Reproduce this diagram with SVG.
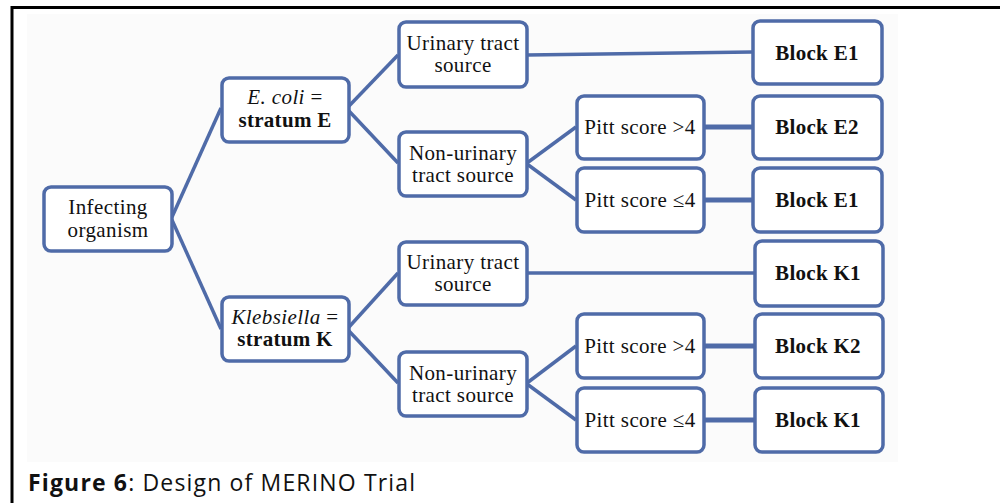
<svg xmlns="http://www.w3.org/2000/svg" width="1000" height="503" viewBox="0 0 1000 503">
<style>
.box{fill:#ffffff;stroke:#4f6ba8;stroke-width:3.5}
.conn{stroke:#4f6ba8;stroke-width:3.5;fill:none;stroke-linecap:butt}
.thick{stroke-width:5}
.t{font-family:"Liberation Serif","Times New Roman",serif;font-size:21px;letter-spacing:0.4px;fill:#111;text-anchor:middle}
.b{font-weight:bold;letter-spacing:0.3px}
.i{font-style:italic}
.cap{font-family:"Open Sans","Liberation Sans",Arial,sans-serif;font-size:23px;fill:#111}
</style>
<rect x="0" y="0" width="1000" height="503" fill="#ffffff"/>
<rect x="27" y="14" width="871" height="448" fill="#fbfbfb"/>
<g id="frame" fill="none" stroke="#000" stroke-width="3">
<path d="M12,503 V7.5 H1000"/>
</g>
<g id="connectors">
<line class="conn" x1="172" y1="217" x2="221" y2="108"/>
<line class="conn" x1="172" y1="220" x2="221" y2="329"/>
<line class="conn" x1="349" y1="106" x2="398" y2="55"/>
<line class="conn" x1="349" y1="111" x2="398" y2="163"/>
<line class="conn" x1="527" y1="55" x2="752" y2="52"/>
<line class="conn" x1="527" y1="163" x2="576" y2="127"/>
<line class="conn" x1="527" y1="164" x2="576" y2="200"/>
<line class="conn thick" x1="704" y1="127" x2="752" y2="127"/>
<line class="conn thick" x1="704" y1="200" x2="752" y2="200"/>
<line class="conn" x1="349" y1="327" x2="398" y2="273"/>
<line class="conn" x1="349" y1="331" x2="398" y2="383"/>
<line class="conn" x1="527" y1="273" x2="754" y2="273"/>
<line class="conn" x1="527" y1="383" x2="576" y2="346"/>
<line class="conn" x1="527" y1="384" x2="576" y2="420"/>
<line class="conn thick" x1="704" y1="346" x2="754" y2="346"/>
<line class="conn thick" x1="704" y1="420" x2="754" y2="420"/>
</g>
<g id="infecting">
<rect class="box" x="44" y="187" width="128" height="64" rx="7"/>
<text class="t" x="108" y="214">Infecting</text>
<text class="t" x="108" y="237">organism</text>
</g>
<g id="ecoli">
<rect class="box" x="222" y="78" width="127" height="64" rx="7"/>
<text class="t" x="285" y="104"><tspan class="i">E. coli</tspan> =</text>
<text class="t b" x="285" y="127">stratum E</text>
</g>
<g id="klebsiella">
<rect class="box" x="222" y="297" width="127" height="64" rx="7"/>
<text class="t" x="285" y="324"><tspan class="i">Klebsiella</tspan> =</text>
<text class="t b" x="285" y="346">stratum K</text>
</g>
<g id="urinaryE">
<rect class="box" x="399" y="22" width="128" height="65" rx="7"/>
<text class="t" x="463" y="50">Urinary tract</text>
<text class="t" x="463" y="72">source</text>
</g>
<g id="nonurinaryE">
<rect class="box" x="399" y="132" width="128" height="64" rx="7"/>
<text class="t" x="463" y="160">Non-urinary</text>
<text class="t" x="463" y="182">tract source</text>
</g>
<g id="urinaryK">
<rect class="box" x="399" y="242" width="128" height="63" rx="7"/>
<text class="t" x="463" y="269">Urinary tract</text>
<text class="t" x="463" y="291">source</text>
</g>
<g id="nonurinaryK">
<rect class="box" x="399" y="352" width="128" height="64" rx="7"/>
<text class="t" x="463" y="380">Non-urinary</text>
<text class="t" x="463" y="402">tract source</text>
</g>
<g id="pittE_hi">
<rect class="box" x="577" y="96" width="127" height="63" rx="7"/>
<text class="t" x="640" y="134">Pitt score &gt;4</text>
</g>
<g id="pittE_lo">
<rect class="box" x="577" y="168" width="127" height="64" rx="7"/>
<text class="t" x="640" y="207">Pitt score ≤4</text>
</g>
<g id="pittK_hi">
<rect class="box" x="577" y="314" width="127" height="64" rx="7"/>
<text class="t" x="640" y="353">Pitt score &gt;4</text>
</g>
<g id="pittK_lo">
<rect class="box" x="577" y="388" width="127" height="64" rx="7"/>
<text class="t" x="640" y="427">Pitt score ≤4</text>
</g>
<g id="blockE1a">
<rect class="box" x="753" y="21" width="129" height="63" rx="7"/>
<text class="t b" x="817" y="60">Block E1</text>
</g>
<g id="blockE2">
<rect class="box" x="753" y="96" width="129" height="63" rx="7"/>
<text class="t b" x="817" y="134">Block E2</text>
</g>
<g id="blockE1b">
<rect class="box" x="753" y="168" width="129" height="64" rx="7"/>
<text class="t b" x="817" y="207">Block E1</text>
</g>
<g id="blockK1a">
<rect class="box" x="755" y="241" width="128" height="65" rx="7"/>
<text class="t b" x="818" y="280">Block K1</text>
</g>
<g id="blockK2">
<rect class="box" x="755" y="314" width="128" height="64" rx="7"/>
<text class="t b" x="818" y="353">Block K2</text>
</g>
<g id="blockK1b">
<rect class="box" x="755" y="388" width="128" height="64" rx="7"/>
<text class="t b" x="818" y="427">Block K1</text>
</g>
<g id="caption">
<text class="cap" x="28" y="491" textLength="387" lengthAdjust="spacing"><tspan font-weight="bold">Figure 6</tspan>: Design of MERINO Trial</text>
</g>
</svg>
